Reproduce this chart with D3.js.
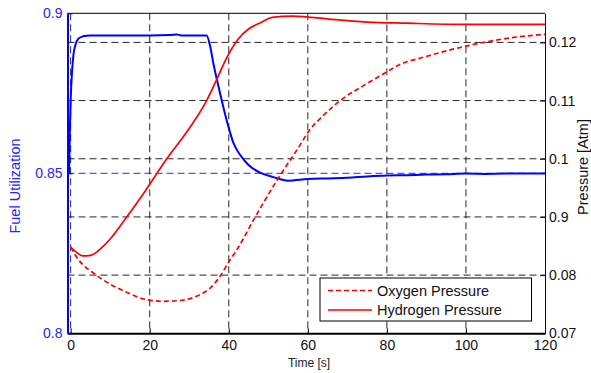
<!DOCTYPE html>
<html>
<head>
<meta charset="utf-8">
<script src="https://cdn.jsdelivr.net/npm/d3@7"></script>
<style>
  body { margin: 0; background: #fff; }
  svg { display: block; font-family: "Liberation Sans", Arial, sans-serif; }
</style>
</head>
<body>
<div id="chart"></div>
<script>
// Fuel utilization (left axis)
const fuelTime = [-0.4, -0.2, 0, 0.3, 0.7, 1.2, 1.9, 3.1, 4.9, 10, 15, 20, 25, 26.8, 28, 30, 34.4, 35.3, 36.1, 37.4, 38.6, 39.9, 41.2, 42.9, 45, 47.9, 51.3, 55, 60, 65, 70, 75, 80, 85, 90, 95, 100, 105, 110, 115, 120];
const fuelUtil = [0.85, 0.8635, 0.8729, 0.8807, 0.887, 0.8901, 0.892, 0.8928, 0.8931, 0.8931, 0.8931, 0.8931, 0.8932, 0.8934, 0.8931, 0.8931, 0.8931, 0.8896, 0.8844, 0.8771, 0.8708, 0.8646, 0.8594, 0.8557, 0.8526, 0.8502, 0.8488, 0.8477, 0.8482, 0.8484, 0.8486, 0.849, 0.8493, 0.8494, 0.8496, 0.8497, 0.8499, 0.8498, 0.8499, 0.8499, 0.8499];

// Pressures (right axis)
const h2Time = [0, 1.5, 3, 5, 8, 10, 14, 19, 24, 30.2, 34.4, 37, 39.5, 42.4, 45, 48.4, 51, 56, 61, 67, 75, 85, 100, 120];
const h2Pressure = [0.0848, 0.0839, 0.0833, 0.0834, 0.0848, 0.0862, 0.0898, 0.0946, 0.0997, 0.1054, 0.11, 0.1137, 0.1174, 0.1206, 0.1223, 0.1235, 0.1243, 0.1245, 0.1243, 0.1239, 0.1235, 0.1233, 0.1231, 0.1231];

const o2Time = [0, 1.5, 6.5, 14, 19, 23.5, 27, 32, 33.7, 35, 37.7, 40.3, 42, 46.2, 52.2, 57.7, 60.5, 63.1, 68.2, 74.9, 79.9, 83.3, 89, 100.3, 110.4, 120];
const o2Pressure = [0.0848, 0.0831, 0.08, 0.0771, 0.0758, 0.0755, 0.0756, 0.0764, 0.077, 0.0776, 0.0797, 0.0826, 0.0843, 0.0894, 0.0963, 0.102, 0.105, 0.1069, 0.11, 0.1129, 0.1149, 0.1162, 0.1174, 0.1194, 0.1207, 0.1214];

// Ticks
const xTicks = [0, 20, 40, 60, 80, 100, 120];
const leftTicks = [0.8, 0.85, 0.9];
const leftLabels = ["0.8", "0.85", "0.9"];
const rightTicks = [0.07, 0.08, 0.09, 0.1, 0.11, 0.12];
const rightLabels = ["0.07", "0.08", "0.9", "0.1", "0.11", "0.12"];
const legendNames = ["Oxygen Pressure", "Hydrogen Pressure"];

const W = 591, H = 373;
const plotLeft = 67.5, plotRight = 545, plotTop = 13.3, plotBottom = 333.3;

const svg = d3.select("#chart").append("svg").attr("width", W).attr("height", H);

const x = d3.scaleLinear().domain([-0.8, 120]).range([plotLeft, plotRight]);
const yL = d3.scaleLinear().domain([0.8, 0.9]).range([plotBottom, plotTop]);
const yR = d3.scaleLinear().domain([0.07, 0.125]).range([plotBottom, plotTop]);

svg.append("defs").append("clipPath").attr("id", "plot")
  .append("rect").attr("x", plotLeft).attr("y", plotTop).attr("width", plotRight - plotLeft).attr("height", plotBottom - plotTop);

// Grid
const grid = svg.append("g").attr("class", "grid").attr("stroke-dasharray", "7,4").attr("stroke-width", 1);
grid.selectAll(".vg").data(xTicks.filter(t => t < 120)).enter().append("line")
  .attr("x1", d => x(d)).attr("x2", d => x(d)).attr("y1", plotTop).attr("y2", plotBottom)
  .attr("stroke", "#000").attr("stroke-opacity", 0.85);
grid.selectAll(".hg").data(rightTicks.filter(t => t > 0.07)).enter().append("line")
  .attr("x1", plotLeft).attr("x2", plotRight).attr("y1", d => yR(d)).attr("y2", d => yR(d))
  .attr("stroke", "#000").attr("stroke-opacity", 0.85);
grid.append("line")
  .attr("x1", plotLeft).attr("x2", plotRight).attr("y1", yL(0.85)).attr("y2", yL(0.85))
  .attr("stroke", "#0000ff").attr("stroke-opacity", 0.85);

// Lines
const plot = svg.append("g").attr("clip-path", "url(#plot)");
const fuelLine = d3.line().x((d, i) => x(fuelTime[i])).y(d => yL(d)).curve(d3.curveMonotoneX);
const h2Line = d3.line().x((d, i) => x(h2Time[i])).y(d => yR(d)).curve(d3.curveMonotoneX);
const o2Line = d3.line().x((d, i) => x(o2Time[i])).y(d => yR(d)).curve(d3.curveMonotoneX);

plot.append("path").attr("d", fuelLine(fuelUtil))
  .attr("fill", "none").attr("stroke", "#0000ff").attr("stroke-width", 2);
plot.append("path").attr("d", o2Line(o2Pressure))
  .attr("fill", "none").attr("stroke", "#ff0000").attr("stroke-width", 1.7).attr("stroke-dasharray", "5,3");
plot.append("path").attr("d", h2Line(h2Pressure))
  .attr("fill", "none").attr("stroke", "#ff0000").attr("stroke-width", 1.7);

// Top border
svg.append("line").attr("x1", plotLeft).attr("x2", plotRight).attr("y1", plotTop).attr("y2", plotTop)
  .attr("stroke", "#000").attr("stroke-width", 1);

// X axis
const xAxis = svg.append("g").attr("transform", `translate(0,${plotBottom})`)
  .call(d3.axisBottom(x).tickValues(xTicks).tickSize(-5).tickSizeOuter(0).tickPadding(7));
xAxis.attr("font-family", null);
xAxis.select(".domain").attr("stroke", "#000").attr("stroke-width", 2);
xAxis.selectAll(".tick line").attr("stroke", "#000");
xAxis.selectAll("text").attr("font-size", 14).attr("fill", "#111");

// Left axis
const lAxis = svg.append("g").attr("transform", `translate(${plotLeft},0)`)
  .call(d3.axisLeft(yL).tickValues(leftTicks).tickFormat((d, i) => leftLabels[i]).tickSize(-5).tickSizeOuter(0).tickPadding(5));
lAxis.attr("font-family", null);
lAxis.select(".domain").attr("stroke", "#0000ff").attr("stroke-width", 2);
lAxis.selectAll(".tick line").attr("stroke", "#0000ff");
lAxis.selectAll("text").attr("font-size", 14).attr("fill", "#2626ff");

// Right axis
const rAxis = svg.append("g").attr("transform", `translate(${plotRight},0)`)
  .call(d3.axisRight(yR).tickValues(rightTicks).tickFormat((d, i) => rightLabels[i]).tickSize(-5).tickSizeOuter(0).tickPadding(4));
rAxis.attr("font-family", null);
rAxis.select(".domain").attr("stroke", "#000080").attr("stroke-width", 1);
rAxis.selectAll(".tick line").attr("stroke", "#000080");
rAxis.selectAll("text").attr("font-size", 14).attr("fill", "#111");

// Axis titles
svg.append("text").attr("x", 309).attr("y", 367).attr("text-anchor", "middle")
  .attr("font-size", 12).attr("fill", "#222").text("Time [s]");
svg.append("text").attr("transform", "translate(20,186) rotate(-90)").attr("text-anchor", "middle")
  .attr("font-size", 14.5).attr("fill", "#2626ff").text("Fuel Utilization");
svg.append("text").attr("transform", "translate(587.5,167) rotate(-90)").attr("text-anchor", "middle")
  .attr("font-size", 14.5).attr("fill", "#111").text("Pressure [Atm]");

// Legend
const legend = svg.append("g").attr("transform", "translate(320,278)");
legend.append("rect").attr("width", 211.5).attr("height", 43)
  .attr("fill", "#fff").attr("stroke", "#000").attr("stroke-width", 1);
const items = legend.selectAll(".item").data(legendNames).enter().append("g")
  .attr("transform", (d, i) => `translate(0,${12.5 + i * 19.5})`);
items.append("line").attr("x1", 8).attr("x2", 52).attr("y1", 0).attr("y2", 0)
  .attr("stroke", "#ff0000").attr("stroke-width", 1.7)
  .attr("stroke-dasharray", (d, i) => i === 0 ? "5,3" : null);
items.append("text").attr("x", 57).attr("y", 0).attr("dy", "0.36em")
  .attr("font-size", 14.5).attr("fill", "#111").text(d => d);
</script>
</body>
</html>
